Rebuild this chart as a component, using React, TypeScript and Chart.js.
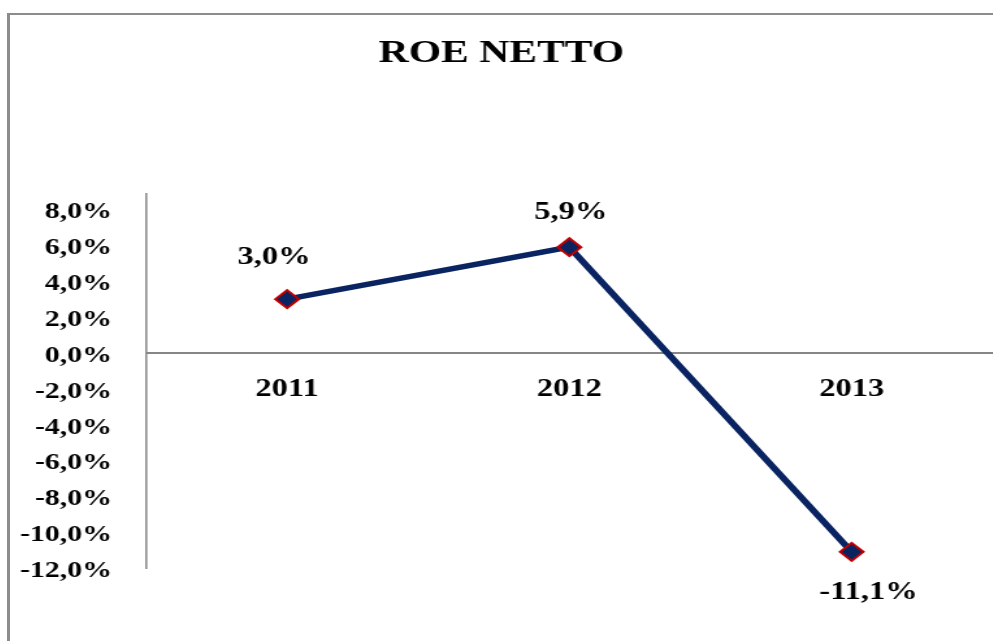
import React, { useEffect, useRef } from "react";
import { Chart, registerables } from "chart.js";

Chart.register(...registerables);

const categories = ["2011", "2012", "2013"];
const roeValues = [3.0, 5.9, -11.1];
const yTickValues = [-12, -10, -8, -6, -4, -2, 0, 2, 4, 6, 8];
const titleText = "ROE NETTO";

const FONT = "'Liberation Serif', 'Times New Roman', serif";
const fmt = (v: number) => v.toFixed(1).replace(".", ",") + "%";

// label placement relative to each point (canvas px)
const LABEL_SHIFT: [number, number][] = [
  [-10, -42],
  [1, -35],
  [13, 41],
];

const pointLabelPlugin = {
  id: "pointLabels",
  afterDatasetsDraw(chart: any) {
    const ctx = chart.ctx;
    const meta = chart.getDatasetMeta(0);
    ctx.save();
    ctx.font = `bold 25px ${FONT}`;
    ctx.fillStyle = "#000";
    ctx.textAlign = "center";
    ctx.textBaseline = "middle";
    meta.data.forEach((pt: any, i: number) => {
      const [dx, dy] = LABEL_SHIFT[i] || [0, -38];
      ctx.fillText(fmt(roeValues[i]), pt.x + dx, pt.y + dy);
    });
    ctx.restore();
  },
};

export default function App() {
  const ref = useRef<HTMLCanvasElement>(null);

  useEffect(() => {
    if (!ref.current) return;
    const chart = new Chart(ref.current, {
      type: "line",
      data: {
        labels: categories,
        datasets: [
          {
            data: roeValues,
            borderColor: "#0a2462",
            borderWidth: 5.5,
            tension: 0,
            pointStyle: "rectRot",
            pointRadius: 9,
            pointBorderWidth: 2,
            pointBorderColor: "#c00000",
            pointBackgroundColor: "#0a2462",
          },
        ],
      },
      options: {
        animation: false,
        responsive: false,
        events: [],
        layout: {
          autoPadding: false,
          padding: { left: 0, right: 0, top: 0, bottom: 73 },
        },
        plugins: {
          legend: { display: false },
          tooltip: { enabled: false },
          title: {
            display: true,
            text: titleText,
            color: "#000",
            font: { family: FONT, size: 32, weight: "bold" },
            padding: { top: 20, bottom: 120 },
          },
        },
        scales: {
          x: {
            type: "category",
            offset: true,
            position: { y: 0 } as any,
            grid: { display: false, drawTicks: false },
            border: { display: true, color: "#868686", width: 2 },
            ticks: {
              color: "#000",
              font: { family: FONT, size: 25, weight: "bold" },
              padding: 22,
              maxRotation: 0,
            },
            afterFit: (scale: any) => {
              scale.paddingLeft = 0;
              scale.paddingRight = 0;
            },
          },
          y: {
            type: "linear",
            position: "left",
            min: -12,
            max: 8.9,
            grid: { display: false, drawTicks: false },
            border: { display: true, color: "#8c8c8c", width: 1.6 },
            afterBuildTicks: (scale: any) => {
              scale.ticks = yTickValues.map((v) => ({ value: v }));
            },
            afterFit: (scale: any) => {
              scale.width = 104.6;
            },
            ticks: {
              color: "#000",
              font: { family: FONT, size: 23, weight: "bold" },
              padding: 26,
              labelOffset: 3,
              callback: (v: any) => fmt(Number(v)),
            },
          },
        },
      },
      plugins: [pointLabelPlugin],
    });
    return () => chart.destroy();
  }, []);

  return (
    <div
      style={{
        position: "fixed",
        left: 7,
        top: 13,
        width: 986,
        height: 628,
        boxSizing: "border-box",
        borderTop: "2px solid #8c8c8c",
        borderLeft: "3px solid #8c8c8c",
        background: "#fff",
        overflow: "hidden",
      }}
    >
      <div
        style={{
          position: "absolute",
          left: 0,
          top: 0,
          width: 756,
          height: 626,
          transform: "scaleX(1.3)",
          transformOrigin: "0 0",
        }}
      >
        <canvas ref={ref} width={756} height={626} />
      </div>
    </div>
  );
}
